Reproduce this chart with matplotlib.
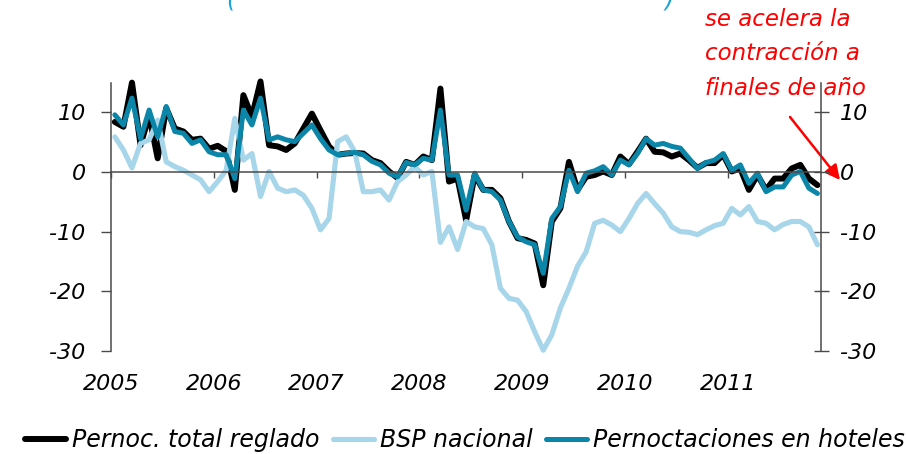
import numpy as np
import matplotlib
matplotlib.use('Agg')
import matplotlib.pyplot as plt

plt.rcParams['font.family'] = 'DejaVu Sans'
plt.rcParams['font.style'] = 'italic'
plt.rcParams['axes.unicode_minus'] = False

# monthly series, Jan 2005 .. Nov 2011 (% yoy)
pernoc_total = [8.4, 7.6, 15.0, 4.5, 9.5, 2.3, 10.7, 7.3, 6.8, 5.4, 5.6, 3.9,
                4.4, 3.5, -3.0, 12.9, 9.3, 15.2, 4.5, 4.3, 3.7, 4.8, 7.3, 9.8,
                7.0, 4.3, 2.9, 3.1, 3.2, 3.1, 2.0, 1.5, 0.1, -1.0, 1.7, 1.2,
                2.6, 2.0, 14.0, -1.6, -1.1, -8.1, -0.5, -3.0, -3.0, -4.4, -8.3, -11.1,
                -11.4, -12.0, -19.0, -8.3, -6.1, 1.7, -3.0, -0.8, -0.5, 0.1, -0.5, 2.6,
                1.3, 3.4, 5.6, 3.4, 3.3, 2.6, 3.1, 2.0, 0.7, 1.5, 1.5, 2.9,
                0.1, 0.6, -3.0, -0.5, -3.0, -1.1, -1.1, 0.6, 1.2, -1.1, -2.2]
bsp_nacional = [5.9, 3.7, 0.7, 4.8, 5.4, 8.7, 1.7, 0.9, 0.3, -0.5, -1.3, -3.3,
                -1.6, 0.3, 9.0, 2.0, 3.1, -4.1, 0.1, -2.7, -3.3, -3.0, -3.9, -6.1,
                -9.7, -7.8, 5.1, 5.9, 3.4, -3.3, -3.3, -3.0, -4.7, -1.6, -0.5, 0.9,
                -0.5, 0.1, -11.8, -9.2, -13.0, -8.3, -9.2, -9.5, -12.2, -19.5, -21.2, -21.5,
                -23.4, -26.8, -29.9, -27.3, -22.8, -19.5, -15.8, -13.4, -8.6, -8.1, -8.9, -10.0,
                -7.8, -5.3, -3.6, -5.3, -6.9, -9.2, -10.0, -10.1, -10.5, -9.7, -9.0, -8.6,
                -6.1, -7.2, -5.8, -8.3, -8.6, -9.7, -8.8, -8.3, -8.3, -9.2, -12.2]
pernoc_hoteles = [9.6, 7.9, 12.4, 5.6, 10.4, 5.9, 11.0, 6.8, 6.5, 4.8, 5.4, 3.4,
                  2.9, 2.9, -1.1, 10.4, 7.9, 12.4, 5.4, 5.9, 5.4, 5.1, 6.5, 7.9,
                  5.6, 3.7, 2.9, 3.1, 3.3, 2.9, 1.8, 1.2, -0.2, -0.8, 1.6, 1.2,
                  2.3, 2.0, 10.4, -0.5, -0.5, -6.4, -0.2, -3.0, -3.3, -4.7, -8.3, -10.9,
                  -11.7, -12.2, -17.0, -7.8, -5.8, 0.3, -3.3, -0.2, 0.2, 0.9, -0.5, 2.0,
                  1.2, 3.1, 5.6, 4.5, 4.8, 4.3, 4.0, 2.3, 0.6, 1.6, 2.0, 3.1,
                  0.3, 1.2, -1.9, -0.2, -3.3, -2.5, -2.5, -0.5, 0.1, -2.7, -3.6]
years = [2005, 2006, 2007, 2008, 2009, 2010, 2011]
yticks = [-30, -20, -10, 0, 10]
labels = ['Pernoc. total reglado', 'BSP nacional', 'Pernoctaciones en hoteles']
note = ['se acelera la', 'contracción a', 'finales de año']

x = 2005 + (np.arange(len(pernoc_total)) + 0.45) / 12.0

grey = '#4a4a4a'
c_lb = '#a7d5ea'
c_teal = '#0b86a8'

fig = plt.figure(figsize=(9.06, 4.54), dpi=100)
ax = fig.add_axes([0.1225, 0.2273, 0.7840, 0.5907])

kw = dict(solid_joinstyle='round', solid_capstyle='round', clip_on=False)
ax.plot(x, pernoc_total, color='black', lw=4.3, label=labels[0], **kw)
ax.plot(x, bsp_nacional, color=c_lb, lw=3.7, label=labels[1], **kw)
ax.plot(x, pernoc_hoteles, color=c_teal, lw=3.6, label=labels[2], **kw)

ax.set_xlim(2005, 2005 + 82.9 / 12)
ax.set_ylim(-30, 15)
ax.set_yticks(yticks)
ax.set_xticks(years)

for s in ['top', 'right']:
    ax.spines[s].set_visible(False)
ax.spines['bottom'].set_position(('data', 0))
ax.spines['bottom'].set_color(grey)
ax.spines['left'].set_color(grey)
ax.spines['bottom'].set_linewidth(1.1)
ax.spines['left'].set_linewidth(1.1)
ax.tick_params(axis='x', direction='out', length=4.5, width=1, color=grey, labelbottom=False)
ax.tick_params(axis='y', direction='out', length=7.2, width=1, color=grey, pad=11, labelsize=16)

ax2 = ax.twinx()
ax2.set_ylim(-30, 15)
ax2.set_yticks(yticks)
for s in ['top', 'left', 'bottom']:
    ax2.spines[s].set_visible(False)
ax2.spines['right'].set_color(grey)
ax2.spines['right'].set_linewidth(1.1)
ax2.tick_params(axis='y', direction='inout', length=10.8, width=1, color=grey, pad=8, labelsize=16)

sec = ax.secondary_xaxis('bottom')
sec.set_xticks(years)
sec.spines['bottom'].set_visible(False)
sec.tick_params(length=0, pad=17, labelsize=16)

h, l = ax.get_legend_handles_labels()
fig.legend(h, l, loc='center right', bbox_to_anchor=(0.9985, 0.031), ncol=3, frameon=False,
           fontsize=17, handlelength=1.75, handletextpad=0.25, columnspacing=0.55,
           borderpad=0, borderaxespad=0)

for txt, yb in zip(note, [26, 60.5, 95]):
    fig.text(705 / 906, 1 - yb / 454, txt, color='red', fontsize=16.5, va='baseline')
ax.annotate('', xy=(840 / 906, 1 - 180 / 454), xycoords='figure fraction',
            xytext=(790 / 906, 1 - 117 / 454), textcoords='figure fraction',
            arrowprops=dict(arrowstyle='-|>', color='red', lw=1.8, mutation_scale=22,
                            shrinkA=0, shrinkB=0), annotation_clip=False)

# title cut off at the top, only the parentheses show
fig.text(231 / 906, 1 - 6 / 454, '(', color='#1aa3d4', fontsize=17, va='baseline', ha='center')
fig.text(669 / 906, 1 - 6 / 454, ')', color='#1aa3d4', fontsize=17, va='baseline', ha='center')

fig.savefig('out.png', dpi=100)
